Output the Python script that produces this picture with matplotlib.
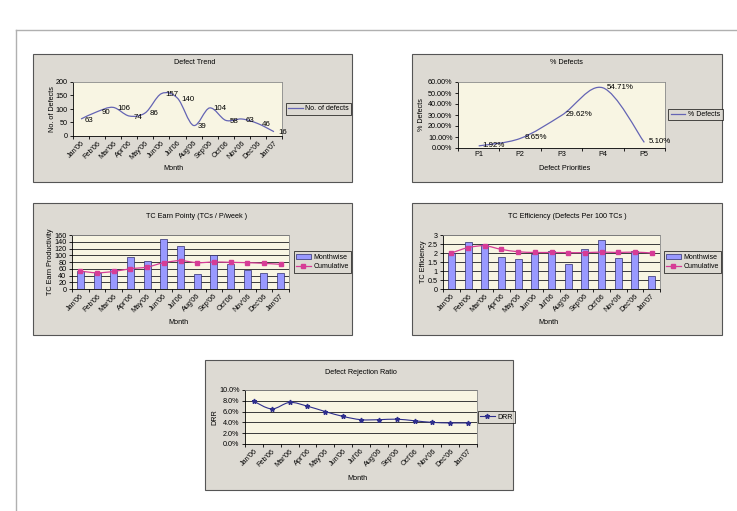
import numpy as np
import matplotlib
matplotlib.use("Agg")
import matplotlib.pyplot as plt
from matplotlib.path import Path
from matplotlib.patches import PathPatch, Rectangle
from matplotlib.lines import Line2D

plt.rcParams['font.family'] = ['Liberation Sans', 'DejaVu Sans']

# ---------------- data ----------------
months = ["Jan'06", "Feb'06", "Mar'06", "Apr'06", "May'06", "Jun'06", "Jul'06",
          "Aug'06", "Sep'06", "Oct'06", "Nov'06", "Dec'06", "Jan'07"]
defects = [63, 90, 106, 74, 86, 157, 140, 39, 104, 58, 63, 46, 16]

priorities = ["P1", "P2", "P3", "P4", "P5"]
pct_defects = [1.92, 8.65, 29.62, 54.71, 5.10]

earn_monthwise = [52, 47, 58, 94, 84, 148, 127, 43, 100, 73, 55, 46, 48]
earn_cumulative = [53, 48, 52, 60, 65, 78, 84, 78, 80, 79, 78, 76, 73]

eff_monthwise = [2.0, 2.6, 2.5, 1.8, 1.65, 1.95, 2.1, 1.4, 2.2, 2.7, 1.75, 2.1, 0.7]
eff_cumulative = [2.0, 2.3, 2.4, 2.2, 2.07, 2.03, 2.03, 2.02, 2.02, 2.05, 2.03, 2.05, 2.0]

drr = [7.9, 6.5, 7.7, 7.0, 6.0, 5.1, 4.5, 4.5, 4.6, 4.3, 4.0, 3.9, 3.9]

# ---------------- styling ----------------
W, H = 737, 511
FS = 5.2
PANEL_BG = '#dddad3'
PLOT_BG = '#f8f5e3'
LINE_BLUE = '#6464b4'
BAR_FACE = '#9999ff'
BAR_EDGE = '#2f2f6f'
PINK = '#d63c96'
NAVY = '#2e2e8c'
GRID = '#3a3a3a'

fig = plt.figure(figsize=(W / 100, H / 100), dpi=100)
fig.patch.set_facecolor('white')

# page frame lines
fig.add_artist(Line2D([16 / W, 1], [1 - 30 / H, 1 - 30 / H], color='#b0b0b0', lw=1.0))
fig.add_artist(Line2D([16 / W, 16 / W], [1 - 30 / H, 0], color='#b0b0b0', lw=1.0))


def fx(x):
    return x / W


def fy(y):
    return 1 - y / H


def panel(l, t, r, b):
    rect = Rectangle((fx(l), fy(b)), (r - l) / W, (b - t) / H, transform=fig.transFigure,
                     facecolor=PANEL_BG, edgecolor='#555555', lw=0.8, zorder=0)
    fig.add_artist(rect)


def plot_axes(l, t, r, b):
    ax = fig.add_axes([fx(l), fy(b), (r - l) / W, (b - t) / H])
    ax.set_facecolor(PLOT_BG)
    for s in ['top', 'right']:
        ax.spines[s].set_color('#8a8a8a')
        ax.spines[s].set_linewidth(0.6)
    for s in ['left', 'bottom']:
        ax.spines[s].set_color('black')
        ax.spines[s].set_linewidth(0.6)
    ax.tick_params(axis='y', labelsize=FS, length=2.5, width=0.6, pad=1.5, direction='out')
    return ax


def smooth_path(x, y):
    pts = np.column_stack([x, y]).astype(float)
    n = len(pts)
    verts = [pts[0]]
    codes = [Path.MOVETO]
    for i in range(n - 1):
        p0 = pts[i - 1] if i > 0 else pts[i]
        p1 = pts[i]
        p2 = pts[i + 1]
        p3 = pts[i + 2] if i + 2 < n else pts[i + 1]
        c1 = p1 + (p2 - p0) / 6.0
        c2 = p2 - (p3 - p1) / 6.0
        verts += [c1, c2, p2]
        codes += [Path.CURVE4] * 3
    return Path(verts, codes)


def draw_smooth(ax, x, y, color, lw=0.9, zorder=3):
    ax.add_patch(PathPatch(smooth_path(x, y), fill=False, edgecolor=color, lw=lw, zorder=zorder))


def cat_xaxis(ax, labels, rotate=True):
    n = len(labels)
    ax.set_xlim(-0.5, n - 0.5)
    ax.set_xticks(np.arange(n))
    ax.set_xticks(np.arange(n + 1) - 0.5, minor=True)
    ax.tick_params(axis='x', which='major', length=0, labelsize=FS, pad=2.5)
    ax.tick_params(axis='x', which='minor', length=2.5, width=0.6, direction='out')
    if rotate:
        ax.set_xticklabels(labels, rotation=45, ha='right', rotation_mode='anchor')
    else:
        ax.set_xticklabels(labels)


def fig_text(x, y, s, **kw):
    fig.text(fx(x), fy(y), s, fontsize=FS, ha='center', va='center', **kw)


def legend(handles, labels, cx, cy):
    lg = fig.legend(handles, labels, loc='center', bbox_to_anchor=(fx(cx), fy(cy)),
                    bbox_transform=fig.transFigure, fontsize=FS - 0.2, frameon=True, fancybox=False,
                    handlelength=2.1, handletextpad=0.4, borderpad=0.35, labelspacing=0.35,
                    borderaxespad=0)
    fr = lg.get_frame()
    fr.set_edgecolor('black')
    fr.set_linewidth(0.6)
    fr.set_facecolor(PANEL_BG)
    return lg


x13 = np.arange(len(months))

# ---------------- Panel 1: Defect Trend ----------------
panel(33, 54, 352, 182)
ax1 = plot_axes(73, 82, 282, 136)
cat_xaxis(ax1, months)
ax1.set_ylim(0, 200)
ax1.set_yticks(np.arange(0, 201, 50))
draw_smooth(ax1, x13, defects, LINE_BLUE)
for xi, v in zip(x13, defects):
    ax1.text(xi + 0.25, v - 4, str(v), fontsize=FS + 0.5, ha='left', va='center', zorder=4)
fig_text(195, 62, 'Defect Trend')
fig_text(173, 168, 'Month')
fig_text(52, 109, 'No. of Defects', rotation=90)
legend([Line2D([], [], color=LINE_BLUE, lw=0.9)], ['No. of defects'], 318.5, 109)

# ---------------- Panel 2: % Defects ----------------
panel(412, 54, 722, 182)
ax2 = plot_axes(458, 82, 665, 148)
cat_xaxis(ax2, priorities, rotate=False)
ax2.set_ylim(0, 60)
ax2.set_yticks(np.arange(0, 61, 10))
ax2.set_yticklabels([f'{v:.2f}%' for v in np.arange(0, 61, 10)])
x5 = np.arange(len(priorities))
draw_smooth(ax2, x5, pct_defects, LINE_BLUE)
for xi, v in zip(x5, pct_defects):
    ax2.text(xi + 0.1, v + 0.5, f'{v:.2f}%', fontsize=FS + 0.5, ha='left', va='center', zorder=4)
fig_text(566, 62, '% Defects')
fig_text(565, 168, 'Defect Priorities')
fig_text(422, 115, '% Defects', rotation=90)
legend([Line2D([], [], color=LINE_BLUE, lw=0.9)], ['% Defects'], 695.5, 114.5)


def bar_combo(ax, mw, cum, ymax, step):
    cat_xaxis(ax, months)
    ax.set_ylim(0, ymax)
    ax.set_yticks(np.arange(0, ymax + step / 2, step))
    ax.yaxis.grid(True, color=GRID, lw=0.7)
    ax.set_axisbelow(True)
    ax.bar(x13, mw, width=0.42, color=BAR_FACE, edgecolor=BAR_EDGE, lw=0.5, zorder=2)
    draw_smooth(ax, x13, cum, PINK, lw=0.9)
    ax.plot(x13, cum, linestyle='none', marker='s', ms=2.6, color=PINK, zorder=4)


h_bar = Rectangle((0, 0), 1, 1, facecolor=BAR_FACE, edgecolor=BAR_EDGE, lw=0.5)
h_cum = Line2D([], [], color=PINK, lw=0.9, marker='s', ms=2.6)

# ---------------- Panel 3: TC Earn ----------------
panel(33, 203, 352, 335)
ax3 = plot_axes(72, 235, 289, 289)
bar_combo(ax3, earn_monthwise, earn_cumulative, 160, 20)
fig_text(197, 216, 'TC Earn Pointy (TCs / P/week )')
fig_text(178, 322, 'Month')
fig_text(51, 262, 'TC Earn Productivity', rotation=90)
legend([h_bar, h_cum], ['Monthwise', 'Cumulative'], 322.5, 262)

# ---------------- Panel 4: TC Efficiency ----------------
panel(412, 203, 722, 335)
ax4 = plot_axes(443, 235, 660, 289)
bar_combo(ax4, eff_monthwise, eff_cumulative, 3, 0.5)
ax4.set_yticklabels(['0', '0.5', '1', '1.5', '2', '2.5', '3'])
fig_text(567, 216, 'TC Efficiency (Defects Per 100 TCs )')
fig_text(548, 322, 'Month')
fig_text(423, 262, 'TC Efficiency', rotation=90)
legend([h_bar, h_cum], ['Monthwise', 'Cumulative'], 692.5, 262)

# ---------------- Panel 5: DRR ----------------
panel(205, 360, 513, 490)
ax5 = plot_axes(245, 390, 477, 444)
cat_xaxis(ax5, months)
ax5.set_ylim(0, 10)
ax5.set_yticks(np.arange(0, 10.1, 2))
ax5.set_yticklabels([f'{v:.1f}%' for v in np.arange(0, 10.1, 2)])
ax5.yaxis.grid(True, color=GRID, lw=0.7)
ax5.set_axisbelow(True)
draw_smooth(ax5, x13, drr, NAVY, lw=0.8)
ax5.plot(x13, drr, linestyle='none', marker='*', ms=3.5, color=NAVY, zorder=4)
fig_text(361, 372, 'Defect Rejection Ratio')
fig_text(357, 478, 'Month')
fig_text(215, 417, 'DRR', rotation=90)
legend([Line2D([], [], color=NAVY, lw=0.8, marker='*', ms=3.5)], ['DRR'], 496.5, 417)

fig.savefig('out.png', dpi=100, facecolor='white')
